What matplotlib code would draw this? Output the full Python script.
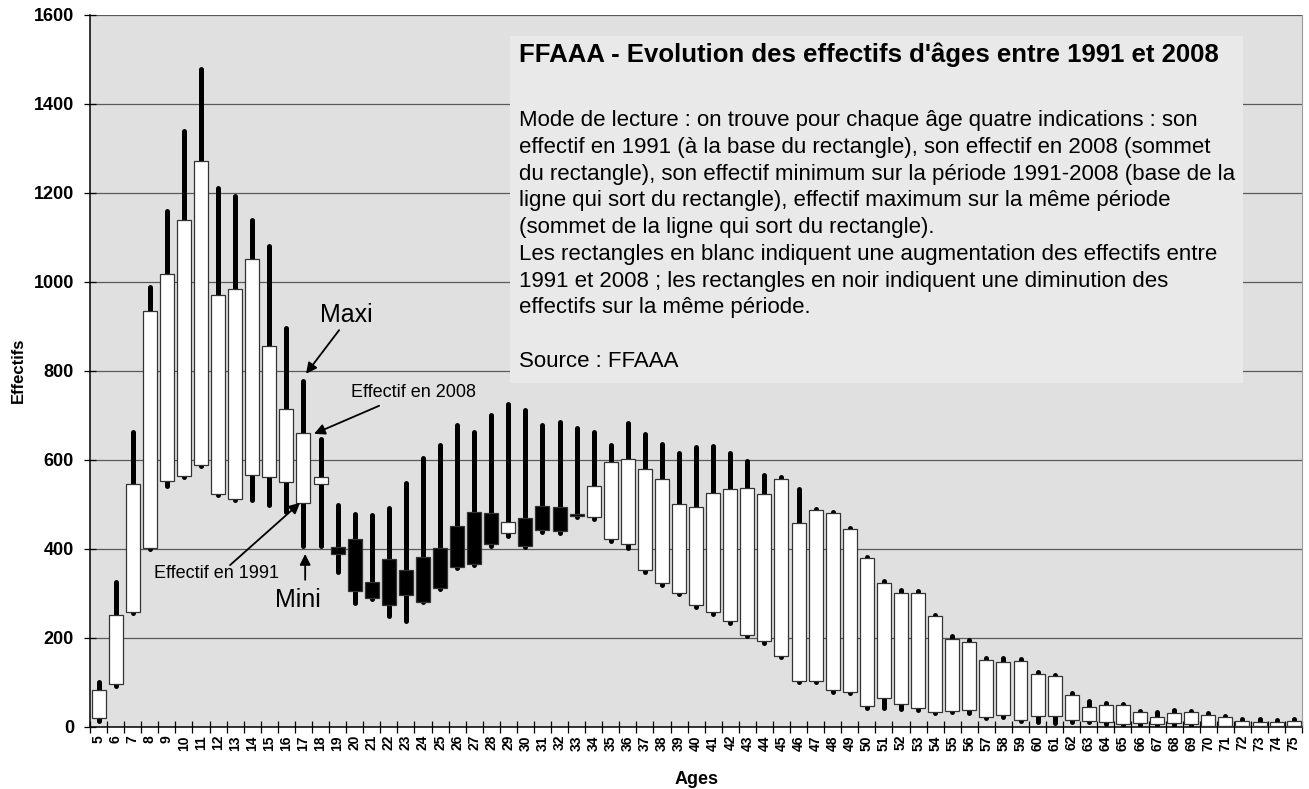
import matplotlib
matplotlib.use("Agg")
import matplotlib.pyplot as plt
from matplotlib.patches import Rectangle

plt.rcParams["font.family"] = ["Liberation Sans", "DejaVu Sans"]

# --- data ------------------------------------------------------------------
ages = list(range(5, 76))
eff_1991 = [20, 95, 258, 402, 552, 563, 589, 523, 512, 565, 560, 550, 503, 545,
            404, 421, 326, 376, 352, 382, 401, 452, 482, 479, 435, 468, 495, 494,
            477, 471, 421, 411, 351, 322, 301, 273, 258, 237, 207, 192, 159, 103,
            103, 82, 78, 46, 65, 52, 41, 34, 36, 37, 22, 26, 16, 24, 24, 16, 13,
            11, 7, 9, 7, 9, 5, 2, 2, 2, 2, 2, 2]
eff_2008 = [82, 252, 545, 934, 1017, 1139, 1272, 969, 984, 1050, 855, 714, 659, 562,
            388, 304, 288, 273, 295, 281, 312, 359, 366, 411, 460, 407, 441, 439,
            473, 541, 595, 601, 578, 556, 501, 494, 524, 533, 537, 522, 556, 457,
            486, 479, 444, 380, 322, 300, 300, 249, 197, 191, 150, 146, 148, 119,
            114, 71, 44, 48, 49, 32, 22, 31, 32, 26, 21, 13, 10, 11, 13]
eff_min = [13, 91, 255, 400, 541, 560, 585, 520, 509, 509, 499, 482, 407, 406,
           347, 278, 287, 249, 237, 281, 309, 356, 363, 407, 429, 404, 437, 436,
           470, 467, 418, 402, 347, 318, 298, 270, 254, 233, 203, 189, 156, 100,
           100, 79, 75, 43, 43, 40, 38, 31, 32, 30, 19, 22, 13, 11, 9, 11, 10,
           5, 4, 4, 4, 4, 3, 1, 1, 1, 1, 1, 1]
eff_max = [100, 324, 661, 987, 1159, 1339, 1478, 1211, 1193, 1139, 1079, 895, 777, 647,
           497, 477, 475, 492, 548, 604, 634, 677, 662, 701, 726, 711, 677, 685,
           672, 662, 634, 682, 657, 635, 616, 628, 631, 615, 598, 566, 560, 533,
           488, 482, 446, 382, 327, 306, 304, 252, 204, 194, 155, 154, 151, 123,
           117, 75, 58, 53, 52, 36, 34, 37, 35, 30, 25, 17, 17, 16, 18]

TITLE = "FFAAA - Evolution des effectifs d'âges entre 1991 et 2008"
NOTE = ("Mode de lecture : on trouve pour chaque âge quatre indications : son\n"
        "effectif en 1991 (à la base du rectangle), son effectif en 2008 (sommet\n"
        "du rectangle), son effectif minimum sur la période 1991-2008 (base de la\n"
        "ligne qui sort du rectangle), effectif maximum sur la même période\n"
        "(sommet de la ligne qui sort du rectangle).\n"
        "Les rectangles en blanc indiquent une augmentation des effectifs entre\n"
        "1991 et 2008 ; les rectangles en noir indiquent une diminution des\n"
        "effectifs sur la même période.\n"
        "\n"
        "Source : FFAAA")

x = list(range(len(ages)))

fig = plt.figure(figsize=(13.09, 7.89), dpi=100)
ax = fig.add_axes([0.0688, 0.079, 0.926, 0.9025])
ax.set_facecolor("#e0e0e0")

# min-max lines behind the boxes
ax.vlines(x, eff_min, eff_max, colors="black", linewidth=3.6,
          capstyle="round", zorder=2)

lo = [min(a, b) for a, b in zip(eff_1991, eff_2008)]
hi = [abs(b - a) for a, b in zip(eff_1991, eff_2008)]
fills = ["white" if b >= a else "black" for a, b in zip(eff_1991, eff_2008)]
ax.bar(x, hi, bottom=lo, width=0.82, color=fills, edgecolor="#333333",
       linewidth=0.9, zorder=3)

ax.set_xlim(-0.5, len(ages) - 0.5)
ax.set_ylim(0, 1600)
ax.set_yticks(range(0, 1601, 200))
ax.yaxis.grid(True, color="#5a5a5a", linewidth=0.9)
ax.set_axisbelow(True)

ax.set_xticks(x)
ax.set_xticklabels([str(a) for a in ages], rotation=90, fontweight="bold",
                   fontsize=10)
ax.set_xticks([i - 0.5 for i in range(len(ages) + 1)], minor=True)
ax.tick_params(axis="x", which="major", length=0, pad=6)
ax.tick_params(axis="x", which="minor", length=9, direction="inout", width=0.9)
ax.tick_params(axis="y", length=9, direction="inout", width=0.9,
               labelsize=13, pad=7)
for lab in ax.get_yticklabels():
    lab.set_fontweight("bold")

ax.spines["top"].set_visible(False)
ax.spines["right"].set_color("#9a9a9a")
ax.spines["left"].set_linewidth(1.1)
ax.spines["bottom"].set_linewidth(1.1)

ax.set_ylabel("Effectifs", fontweight="bold", fontsize=12, labelpad=6)
ax.set_xlabel("Ages", fontweight="bold", fontsize=13, labelpad=15)

# explanatory box
ax.add_patch(Rectangle((0.3465, 0.4827), 0.6045, 0.4873, transform=ax.transAxes,
                       facecolor="#e9e9e9", edgecolor="none", zorder=4))
ax.text(0.354, 0.943, TITLE, transform=ax.transAxes, fontsize=18.5,
        fontweight="bold", va="center", ha="left", zorder=5)
ax.text(0.354, 0.866, NOTE, transform=ax.transAxes, fontsize=16,
        va="top", ha="left", linespacing=1.36, zorder=5)

# reading guide around age 17
arrow = dict(arrowstyle="-|>", color="black", lw=1.3, mutation_scale=16,
             shrinkA=0, shrinkB=0)
ax.text(14.53, 925, "Maxi", fontsize=18, ha="center", va="center")
ax.annotate("", xy=(12.15, 793), xytext=(14.09, 891), arrowprops=arrow)
ax.text(18.42, 750, "Effectif en 2008", fontsize=13, ha="center", va="center")
ax.annotate("", xy=(12.62, 658), xytext=(16.43, 721), arrowprops=arrow)
ax.text(6.88, 345, "Effectif en 1991", fontsize=13, ha="center", va="center")
ax.annotate("", xy=(11.80, 503), xytext=(7.70, 363), arrowprops=arrow)
ax.text(11.69, 285, "Mini", fontsize=18, ha="center", va="center")
ax.annotate("", xy=(12.1, 388), xytext=(12.1, 330), arrowprops=arrow)

fig.savefig("out.png", dpi=100)
